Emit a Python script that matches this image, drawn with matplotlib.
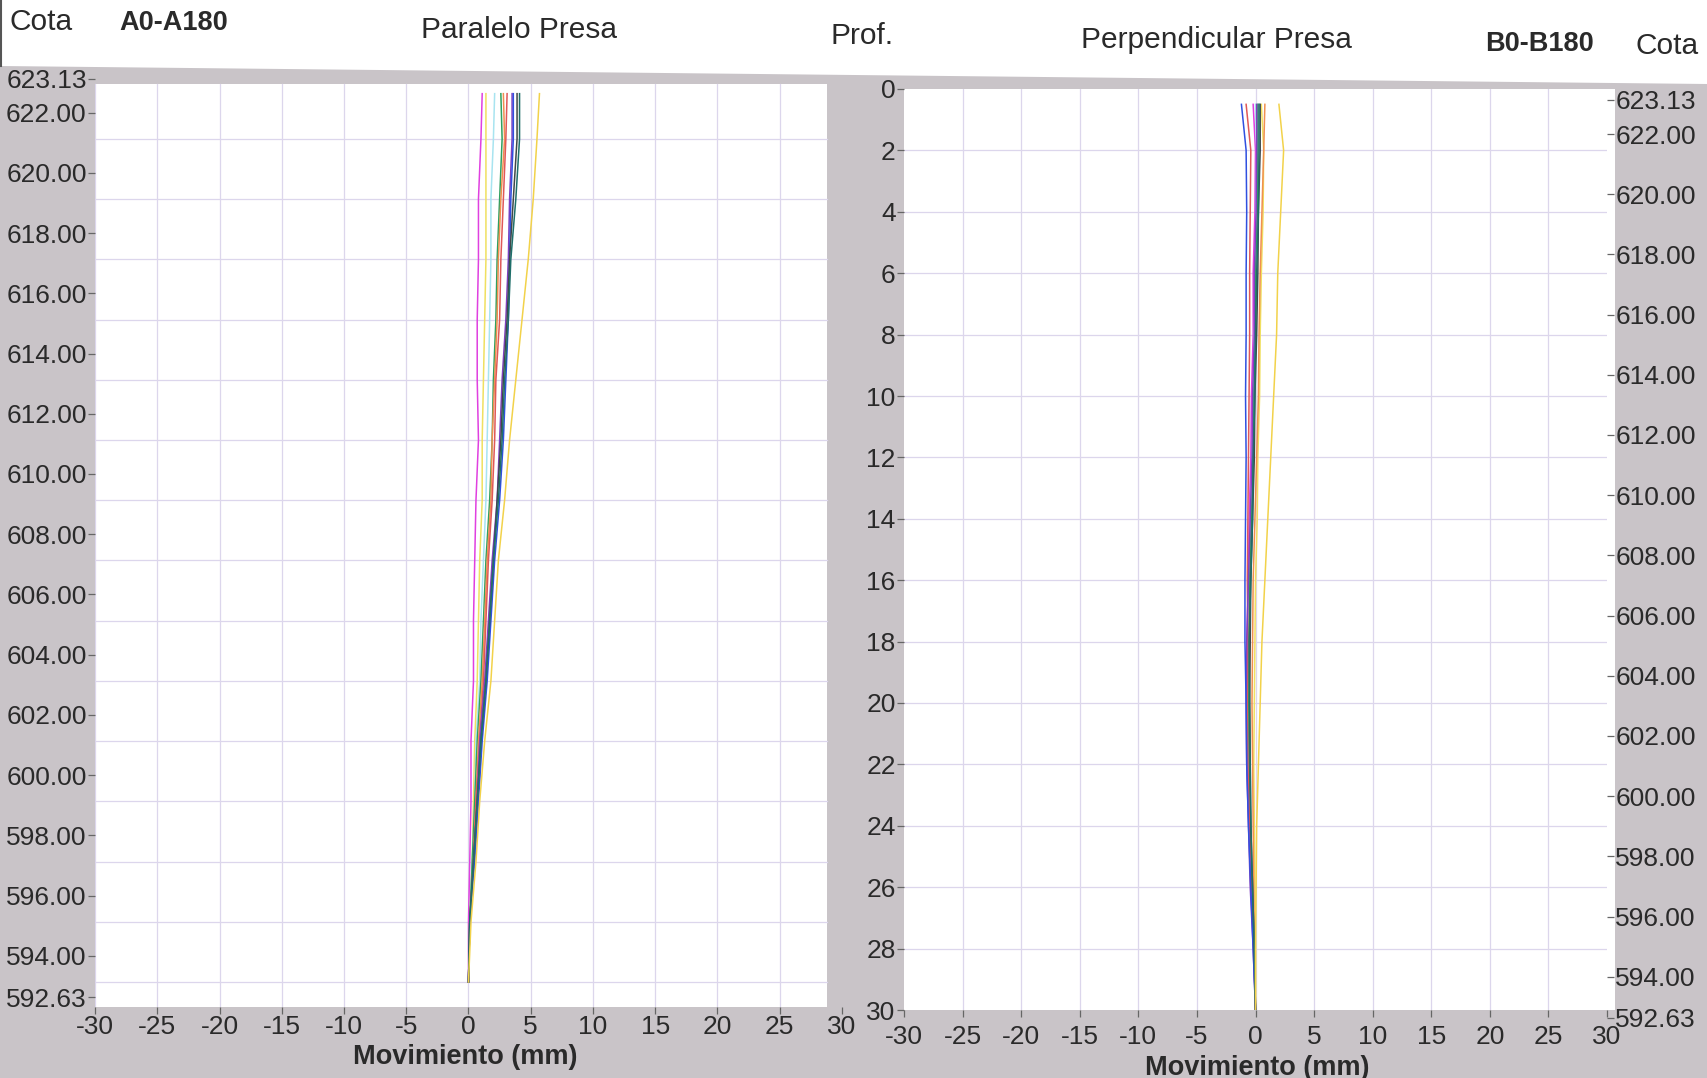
import matplotlib
matplotlib.use('Agg')
import matplotlib.pyplot as plt
from matplotlib.patches import Rectangle, Polygon
from matplotlib.lines import Line2D

plt.rcParams['font.family'] = ['Liberation Sans', 'DejaVu Sans']

# ---------------- data ----------------
depth = [0.5, 2, 4, 6, 8, 10, 12, 14, 16, 18, 20, 22, 24, 26, 28, 30]
cota_top = 623.13
cota_bottom = 592.63
cota_ticks = [623.13, 622.00, 620.00, 618.00, 616.00, 614.00, 612.00, 610.00,
              608.00, 606.00, 604.00, 602.00, 600.00, 598.00, 596.00, 594.00, 592.63]
prof_ticks = [0, 2, 4, 6, 8, 10, 12, 14, 16, 18, 20, 22, 24, 26, 28, 30]
x_ticks = [-30, -25, -20, -15, -10, -5, 0, 5, 10, 15, 20, 25, 30]

series_colors = ['#e040e0', '#f0e060', '#a8e4f0', '#30a060', '#f09050', '#e05858',
                 '#8040c0', '#3050e0', '#404848', '#1f6f6a', '#f2d24a']

# Paralelo Presa (A0-A180), mm
par_magenta = [1.1, 1.0, 0.8, 0.8, 0.7, 0.7, 0.8, 0.6, 0.5, 0.4, 0.4, 0.2, 0.2, 0.1, 0.0, 0.0]
par_yellow  = [1.4, 1.4, 1.4, 1.4, 1.3, 1.2, 1.1, 1.1, 0.9, 0.8, 0.7, 0.5, 0.4, 0.3, 0.1, 0.0]
par_cyan    = [2.1, 2.0, 1.8, 1.8, 1.7, 1.6, 1.5, 1.4, 1.2, 1.0, 0.9, 0.6, 0.5, 0.3, 0.1, 0.0]
par_green   = [2.6, 2.7, 2.5, 2.3, 2.2, 2.0, 1.9, 1.7, 1.4, 1.2, 1.0, 0.7, 0.5, 0.3, 0.1, 0.0]
par_orange  = [2.8, 2.9, 2.6, 2.4, 2.3, 2.1, 1.9, 1.8, 1.5, 1.3, 1.1, 0.8, 0.6, 0.4, 0.1, 0.0]
par_red     = [3.1, 3.0, 2.8, 2.6, 2.5, 2.2, 2.1, 1.9, 1.6, 1.4, 1.2, 0.9, 0.6, 0.4, 0.1, 0.0]
par_purple  = [3.5, 3.5, 3.3, 3.2, 3.0, 2.7, 2.5, 2.3, 1.9, 1.6, 1.3, 0.9, 0.7, 0.4, 0.1, 0.0]
par_blue    = [3.6, 3.6, 3.4, 3.3, 3.2, 3.0, 2.8, 2.5, 2.1, 1.8, 1.5, 1.1, 0.8, 0.5, 0.1, 0.0]
par_dark    = [3.9, 3.9, 3.6, 3.3, 3.1, 2.8, 2.6, 2.3, 2.0, 1.7, 1.4, 1.0, 0.7, 0.4, 0.1, 0.0]
par_teal    = [4.1, 4.1, 3.8, 3.4, 3.2, 2.9, 2.7, 2.4, 2.0, 1.7, 1.4, 1.0, 0.7, 0.4, 0.1, 0.0]
par_gold    = [5.7, 5.5, 5.2, 4.8, 4.3, 3.8, 3.3, 2.9, 2.4, 2.1, 1.8, 1.3, 0.9, 0.6, 0.2, 0.0]

# Perpendicular Presa (B0-B180), mm
per_magenta = [-0.2, 0.0, -0.05, -0.2, -0.2, -0.35, -0.4, -0.55, -0.6, -0.75, -0.7, -0.65, -0.5, -0.35, -0.15, 0.0]
per_yellow  = [0.5, 0.7, 0.65, 0.5, 0.4, 0.35, 0.2, 0.15, 0.0, -0.05, -0.1, -0.15, -0.1, -0.05, 0.0, 0.0]
per_cyan    = [0.0, 0.1, 0.05, 0.0, -0.1, -0.15, -0.3, -0.35, -0.5, -0.55, -0.6, -0.55, -0.5, -0.35, -0.15, 0.0]
per_green   = [0.2, 0.2, 0.15, 0.0, 0.0, -0.15, -0.2, -0.35, -0.5, -0.55, -0.6, -0.55, -0.4, -0.35, -0.15, 0.0]
per_orange  = [0.8, 0.7, 0.55, 0.4, 0.3, 0.25, 0.1, -0.05, -0.2, -0.25, -0.3, -0.25, -0.2, -0.15, -0.1, 0.0]
per_red     = [-0.8, -0.4, -0.45, -0.5, -0.5, -0.55, -0.6, -0.65, -0.7, -0.65, -0.7, -0.65, -0.5, -0.35, -0.15, 0.0]
per_purple  = [0.1, 0.1, 0.05, -0.1, -0.1, -0.25, -0.3, -0.45, -0.6, -0.75, -0.8, -0.75, -0.6, -0.45, -0.2, 0.0]
per_blue    = [-1.2, -0.8, -0.75, -0.8, -0.8, -0.85, -0.8, -0.85, -0.9, -0.9, -0.8, -0.75, -0.6, -0.4, -0.2, 0.0]
per_dark    = [0.4, 0.4, 0.25, 0.2, 0.1, -0.05, -0.1, -0.25, -0.4, -0.45, -0.5, -0.45, -0.4, -0.25, -0.1, 0.0]
per_teal    = [0.3, 0.3, 0.25, 0.1, 0.0, -0.05, -0.2, -0.25, -0.4, -0.55, -0.5, -0.45, -0.4, -0.25, -0.1, 0.0]
per_gold    = [2.0, 2.4, 2.15, 1.9, 1.8, 1.55, 1.3, 1.05, 0.8, 0.55, 0.4, 0.25, 0.1, 0.05, 0.0, 0.0]

par_series = [par_magenta, par_yellow, par_cyan, par_green, par_orange, par_red,
              par_purple, par_blue, par_dark, par_teal, par_gold]
per_series = [per_magenta, per_yellow, per_cyan, per_green, per_orange, per_red,
              per_purple, per_blue, per_dark, per_teal, per_gold]

# ---------------- style ----------------
W, H = 1708, 1078
BG = '#c9c4c8'
GRID = '#dcd6ec'
TXT = '#2a2a2a'
TICKC = '#666666'
FS_TICK = 19
FS_HEAD = 21.5

fig = plt.figure(figsize=(W / 100, H / 100), dpi=100, facecolor=BG)

# white header band (slightly slanted, as on the scan)
hdr = Polygon([(0, 1), (1, 1), (1, 1 - 84 / H), (0, 1 - 66 / H)],
              closed=True, transform=fig.transFigure, facecolor='white',
              edgecolor='none', zorder=0)
fig.patches.append(hdr)
fig.add_artist(Line2D([1.5 / W, 1.5 / W], [1, 1 - 66 / H], color='#555555', lw=1.5))


def fx(px):
    return px / W


def fy(py):
    return 1 - py / H


def style_axes(ax):
    for s in ax.spines.values():
        s.set_visible(False)
    ax.set_facecolor('none')
    ax.tick_params(axis='both', labelsize=FS_TICK, colors=TXT, length=5,
                   width=0.9, pad=1)
    ax.tick_params(axis='both', color=TICKC)


# ---------------- left panel ----------------
L_left, L_right, L_top, L_bot = 95, 842, 75, 1007
axl = fig.add_axes([fx(L_left), fy(L_bot), fx(L_right - L_left), (L_bot - L_top) / H])
style_axes(axl)
y_lo, y_hi = 592.30, 623.25
axl.set_xlim(-30, 30)
axl.set_ylim(y_lo, y_hi)
white_right = 28.8
white_top = 622.95
axl.add_patch(Rectangle((-30, y_lo), white_right + 30, white_top - y_lo,
                        facecolor='white', edgecolor='none', zorder=0.2))
for xv in x_ticks:
    if xv < white_right:
        axl.plot([xv, xv], [y_lo, white_top], color=GRID, lw=0.9, zorder=0.3)
for pv in prof_ticks[1:]:
    axl.plot([-30, white_right], [cota_top - pv] * 2, color=GRID, lw=0.9, zorder=0.3)

cota_vals = [cota_top - d for d in depth]
for vals, col in zip(par_series, series_colors):
    axl.plot(vals, cota_vals, color=col, lw=1.1, zorder=2)

axl.set_xticks(x_ticks)
axl.set_xticklabels([str(v) for v in x_ticks])
axl.set_yticks(cota_ticks)
axl.set_yticklabels(['%.2f' % v for v in cota_ticks])

# ---------------- right panel ----------------
R_left, R_right, R_top, R_bot = 904, 1607, 89, 1010
axr = fig.add_axes([fx(R_left), fy(R_bot), fx(R_right - R_left), (R_bot - R_top) / H])
style_axes(axr)
axr.tick_params(axis='x', pad=6)
axr.set_xlim(-30, 30)
axr.set_ylim(30, 0)
axr.add_patch(Rectangle((-30, 0), 60.7, 30, facecolor='white', edgecolor='none',
                        zorder=0.2, clip_on=False))
for xv in x_ticks[1:-1]:
    axr.plot([xv, xv], [0, 30], color=GRID, lw=0.9, zorder=0.3)
for pv in prof_ticks[1:-1]:
    axr.plot([-30, 30], [pv, pv], color=GRID, lw=0.9, zorder=0.3)

for vals, col in zip(per_series, series_colors):
    axr.plot(vals, depth, color=col, lw=1.1, zorder=2)

axr.set_xticks(x_ticks)
axr.set_xticklabels([str(v) for v in x_ticks])
axr.set_yticks(prof_ticks)
axr.set_yticklabels([str(v) for v in prof_ticks])

# right-hand Cota scale (sits a little lower on the scan)
C_top, C_bot = 100, 1018
axc = fig.add_axes([fx(R_left), fy(C_bot), fx(R_right - R_left), (C_bot - C_top) / H])
axc.set_facecolor('none')
for s in axc.spines.values():
    s.set_visible(False)
axc.set_xticks([])
axc.set_ylim(cota_bottom, cota_top)
axc.yaxis.tick_right()
axc.set_yticks(cota_ticks)
axc.set_yticklabels(['%.2f' % v for v in cota_ticks])
axc.tick_params(axis='y', labelsize=FS_TICK, colors=TXT, length=5, width=0.9, pad=1)
axc.tick_params(axis='y', color=TICKC)

# ---------------- header texts ----------------
fig.text(fx(41), fy(22), 'Cota', fontsize=FS_HEAD, color=TXT, ha='center', va='center')
fig.text(fx(174), fy(23), 'A0-A180', fontsize=19.5, fontweight='bold', color=TXT,
         ha='center', va='center')
fig.text(fx(519), fy(30), 'Paralelo Presa', fontsize=FS_HEAD, color=TXT, ha='center', va='center')
fig.text(fx(862), fy(36), 'Prof.', fontsize=FS_HEAD, color=TXT, ha='center', va='center')
fig.text(fx(1216), fy(40), 'Perpendicular Presa', fontsize=FS_HEAD, color=TXT,
         ha='center', va='center')
fig.text(fx(1540), fy(44), 'B0-B180', fontsize=19.5, fontweight='bold', color=TXT,
         ha='center', va='center')
fig.text(fx(1667), fy(46), 'Cota', fontsize=FS_HEAD, color=TXT, ha='center', va='center')

# axis titles
fig.text(fx(465), fy(1057), 'Movimiento (mm)', fontsize=19.5, fontweight='bold',
         color=TXT, ha='center', va='center')
fig.text(fx(1257), fy(1068), 'Movimiento (mm)', fontsize=19.5, fontweight='bold',
         color=TXT, ha='center', va='center')

fig.savefig('out.png', dpi=100, facecolor=BG)
